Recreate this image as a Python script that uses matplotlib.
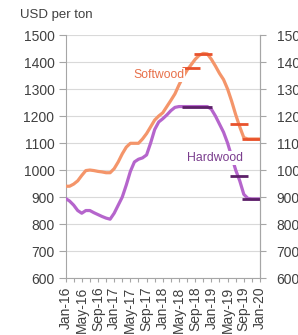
import matplotlib.pyplot as plt
import numpy as np

# Tick labels, every 4 months from Jan-16 to Jan-20
tick_labels = ['Jan-16', 'May-16', 'Sep-16', 'Jan-17', 'May-17', 'Sep-17', 'Jan-18',
               'May-18', 'Sep-18', 'Jan-19', 'May-19', 'Sep-19', 'Jan-20']

# Monthly prices, Jan-16 .. Jan-20 (USD per ton)
softwood = [940, 940, 948, 960, 980, 998, 1000, 998, 995, 993, 990, 990, 1005,
            1030, 1060, 1085, 1099, 1099, 1099, 1115, 1135, 1160, 1185, 1200,
            1212, 1235, 1258, 1282, 1315, 1345, 1370, 1390, 1410, 1425, 1432,
            1430, 1410, 1385, 1358, 1335, 1300, 1255, 1205, 1160, 1120, 1115,
            1115, 1115, 1115]
hardwood = [895, 885, 870, 850, 840, 850, 850, 842, 835, 828, 822, 818, 840,
            870, 900, 945, 995, 1030, 1040, 1045, 1056, 1100, 1150, 1178,
            1190, 1204, 1220, 1232, 1235, 1235, 1235, 1235, 1235, 1235, 1235,
            1235, 1225, 1200, 1170, 1140, 1100, 1050, 1000, 960, 910, 895,
            893, 893, 893]

# Forecast markers: start month, end month, value
soft_fc_start = [28.7, 31.6, 40.6, 43.5]
soft_fc_end = [33.2, 36.1, 45.1, 48.0]
soft_fc_val = [1378, 1428, 1170, 1114]
hard_fc_start = [28.7, 40.6, 43.5]
hard_fc_end = [36.1, 45.1, 48.0]
hard_fc_val = [1233, 979, 893]

plt.rcParams['font.family'] = ['Liberation Sans', 'DejaVu Sans']

months = np.arange(len(softwood))
text_col = '#404040'
spine_col = '#A6A6A6'

fig = plt.figure(figsize=(2.98, 3.35), dpi=100)
ax = fig.add_axes([0.22, 0.17, 0.6525, 0.7255])

ax.plot(months, softwood, color='#F4956A', lw=2.3, solid_capstyle='round', zorder=3)
ax.plot(months, hardwood, color='#B565CC', lw=2.3, solid_capstyle='round', zorder=3)
ax.hlines(soft_fc_val, soft_fc_start, soft_fc_end, color='#E8522C', lw=2.0, zorder=4)
ax.hlines(hard_fc_val, hard_fc_start, hard_fc_end, color='#5C2068', lw=2.0, zorder=4)

box = dict(facecolor='white', edgecolor='none', pad=0.5)
ax.text(16.8, 1352, 'Softwood', color='#E8704A', fontsize=8.8, ha='left', va='center',
        bbox=box, zorder=5)
ax.text(29.9, 1044, 'Hardwood', color='#7B3E8E', fontsize=8.8, ha='left', va='center',
        bbox=box, zorder=5)

ax.set_xlim(0, 48)
ax.set_ylim(600, 1500)
ax.set_yticks(np.arange(600, 1501, 100))
ax.set_xticks(np.arange(0, 49, 2))
ax.set_xticklabels([tick_labels[i // 2] if i % 2 == 0 else '' for i in range(25)], rotation=90)
ax.grid(axis='y', color='#D9D9D9', lw=0.8)
ax.set_axisbelow(True)

ax.spines['top'].set_visible(False)
for s in ['left', 'right', 'bottom']:
    ax.spines[s].set_color(spine_col)
    ax.spines[s].set_linewidth(0.8)

ax.tick_params(axis='y', length=5, width=0.8, color=spine_col, labelcolor=text_col,
               labelsize=10, pad=3)
ax.tick_params(axis='x', length=3, width=0.8, color=spine_col, labelcolor=text_col,
               labelsize=10, pad=3)

ax2 = ax.twinx()
ax2.set_ylim(600, 1500)
ax2.set_yticks(np.arange(600, 1501, 100))
for s in ['top', 'left', 'bottom']:
    ax2.spines[s].set_visible(False)
ax2.spines['right'].set_color(spine_col)
ax2.spines['right'].set_linewidth(0.8)
ax2.tick_params(axis='y', length=4, width=0.8, color=spine_col, labelcolor=text_col,
                labelsize=10, pad=8)

fig.text(0.067, 0.955, 'USD per ton', fontsize=9.5, color=text_col, ha='left', va='center')

fig.savefig('out.png', dpi=100)
